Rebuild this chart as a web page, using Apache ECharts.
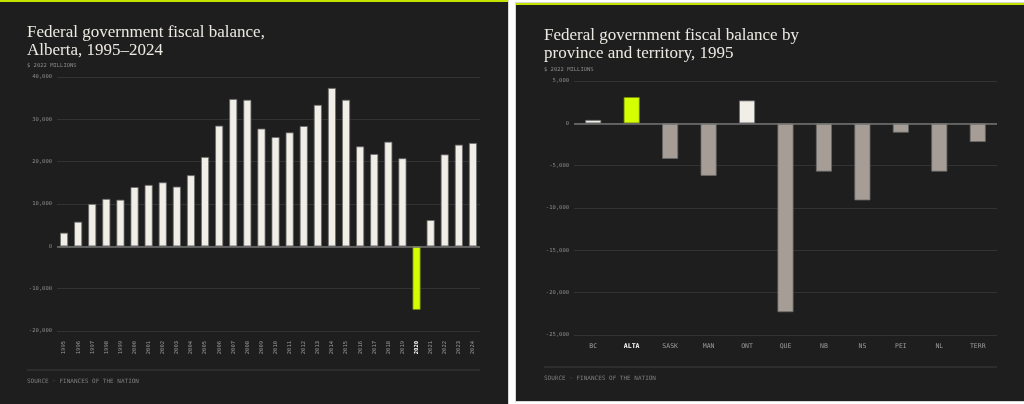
<!DOCTYPE html>
<html lang="en">
<head>
    <meta charset="UTF-8">
    <title>Federal government fiscal balance</title>
    <style>
        body { margin: 0; background: #ffffff; }
        .panel { position: absolute; background: #1e1e1e; box-shadow: 0 0 0 1px #d6d6d6; }
        .accent { position: absolute; left: 0; top: 0; right: 0; height: 2px; background: #c4e400; z-index: 2; }
        .chart { position: absolute; left: 0; top: 0; width: 100%; height: 100%; }
    </style>
</head>
<body>
<div class="panel" style="left:0;top:0;width:508px;height:404px;">
    <div class="accent"></div>
    <div id="albertaChart" class="chart"></div>
</div>
<div class="panel" style="left:516px;top:3px;width:508px;height:398px;">
    <div class="accent"></div>
    <div id="provinceChart" class="chart"></div>
</div>
<script type="text/javascript" src="https://cdn.jsdelivr.net/npm/echarts@6/dist/echarts.min.js"></script>
<script type="text/javascript">
    // 数据
    const years = ['1995', '1996', '1997', '1998', '1999', '2000', '2001', '2002', '2003', '2004',
        '2005', '2006', '2007', '2008', '2009', '2010', '2011', '2012', '2013', '2014',
        '2015', '2016', '2017', '2018', '2019', '2020', '2021', '2022', '2023', '2024'];
    const albertaBalance = [3200, 5800, 10000, 11200, 11000, 14000, 14500, 15100, 14100, 16800,
        21100, 28500, 34800, 34600, 27800, 25800, 26900, 28400, 33400, 37400,
        34600, 23600, 21800, 24700, 20800, -15000, 6200, 21700, 24000, 24400];

    const provinces = ['BC', 'ALTA', 'SASK', 'MAN', 'ONT', 'QUE', 'NB', 'NS', 'PEI', 'NL', 'TERR'];
    const provinceBalance1995 = [400, 3100, -4200, -6200, 2700, -22300, -5700, -9100, -1100, -5700, -2200];

    const albertaTicks = {min: -20000, max: 40000, interval: 10000};
    const provinceTicks = {min: -25000, max: 5000, interval: 5000};

    const SERIF = '"Liberation Serif", "DejaVu Serif", serif';
    const MONO = '"DejaVu Sans Mono", "Liberation Mono", monospace';
    const LIME = '#d4ff00';

    function barColor(name, value, highlight) {
        if (name === highlight) return LIME;
        return value >= 0 ? '#f1eee8' : '#a69e96';
    }

    // 通用配置
    function getOption(cfg) {
        return {
            backgroundColor: 'transparent',
            animation: false,
            title: [
                {
                    text: cfg.title,
                    left: cfg.textLeft,
                    top: cfg.titleTop,
                    padding: 0,
                    textStyle: {fontFamily: SERIF, fontSize: 17, lineHeight: 18, fontWeight: 'normal', color: '#ece9e2'}
                },
                {
                    text: '$ 2022 MILLIONS',
                    left: cfg.textLeft,
                    top: cfg.unitTop,
                    padding: 0,
                    textStyle: {fontFamily: MONO, fontSize: 5.5, fontWeight: 'normal', color: '#8a8a8a'}
                },
                {
                    text: 'SOURCE · FINANCES OF THE NATION',
                    left: cfg.textLeft,
                    top: cfg.sourceTop,
                    padding: 0,
                    textStyle: {fontFamily: MONO, fontSize: 6, fontWeight: 'normal', color: '#7e7e7e'}
                }
            ],
            graphic: [{
                type: 'line',
                shape: {x1: cfg.textLeft, y1: cfg.ruleY, x2: cfg.ruleEnd, y2: cfg.ruleY},
                style: {stroke: '#3c3c3c', lineWidth: 1}
            }],
            grid: cfg.grid,
            xAxis: {
                type: 'category',
                data: cfg.categories,
                axisLine: {show: false, onZero: false},
                axisTick: {show: false},
                axisLabel: {
                    interval: 0,
                    rotate: cfg.rotate,
                    margin: cfg.labelMargin,
                    fontFamily: MONO,
                    fontSize: cfg.labelSize,
                    color: '#9c9c9c',
                    formatter: function (v) {
                        return v === cfg.highlight ? '{hl|' + v + '}' : v;
                    },
                    rich: {
                        hl: {fontFamily: MONO, fontSize: cfg.labelSize, fontWeight: 'bold', color: '#ffffff'}
                    }
                }
            },
            yAxis: {
                type: 'value',
                min: cfg.ticks.min,
                max: cfg.ticks.max,
                interval: cfg.ticks.interval,
                axisLine: {show: false},
                axisTick: {show: false},
                axisLabel: {
                    margin: 5,
                    fontFamily: MONO,
                    fontSize: 5.5,
                    color: '#8a8a8a',
                    formatter: function (v) {
                        return v.toLocaleString('en-US');
                    }
                },
                splitLine: {lineStyle: {color: '#333333', width: 1}}
            },
            series: [{
                type: 'bar',
                data: cfg.values.map(function (v, i) {
                    const name = cfg.categories[i];
                    return {
                        value: v,
                        itemStyle: {
                            color: barColor(name, v, cfg.highlight),
                            borderColor: name === cfg.highlight ? '#7a8a10' : '#6a6a6a',
                            borderWidth: 0.8
                        }
                    };
                }),
                barWidth: cfg.barWidth,
                markLine: {
                    silent: true,
                    symbol: 'none',
                    label: {show: false},
                    lineStyle: {color: '#757575', type: 'solid', width: 1.5},
                    data: [{yAxis: 0}]
                }
            }]
        };
    }

    let albertaChart = echarts.init(document.getElementById('albertaChart'));
    albertaChart.setOption(getOption({
        title: 'Federal government fiscal balance,\nAlberta, 1995–2024',
        textLeft: 27,
        titleTop: 24,
        unitTop: 63,
        sourceTop: 378,
        ruleY: 370,
        ruleEnd: 480,
        grid: {left: 57, right: 28, top: 77, bottom: 73},
        categories: years,
        values: albertaBalance,
        highlight: '2020',
        ticks: albertaTicks,
        rotate: 90,
        labelMargin: 10,
        labelSize: 5.5,
        barWidth: 8
    }));

    let provinceChart = echarts.init(document.getElementById('provinceChart'));
    provinceChart.setOption(getOption({
        title: 'Federal government fiscal balance by\nprovince and territory, 1995',
        textLeft: 28,
        titleTop: 24,
        unitTop: 64,
        sourceTop: 372,
        ruleY: 364,
        ruleEnd: 481,
        grid: {left: 58, right: 27, top: 78, bottom: 66},
        categories: provinces,
        values: provinceBalance1995,
        highlight: 'ALTA',
        ticks: provinceTicks,
        rotate: 0,
        labelMargin: 8,
        labelSize: 6.5,
        barWidth: 16
    }));
</script>
</body>
</html>
